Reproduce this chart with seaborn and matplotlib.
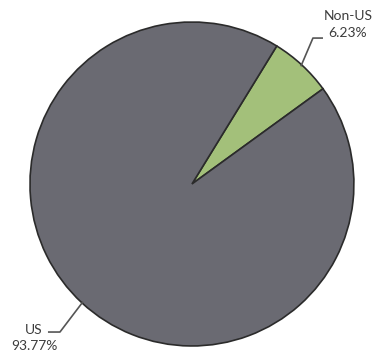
import numpy as np
import matplotlib
matplotlib.use("Agg")
import matplotlib.pyplot as plt
import seaborn as sns

sns.set_style("white")
plt.rcParams['font.family'] = ['Lato', 'DejaVu Sans']

# data
labels = ["Non-US", "US"]
shares = [6.23, 93.77]
colors = ["#a3c07a", "#6a6a72"]
start_deg = 36

fig = plt.figure(figsize=(3.75, 3.56), dpi=100)
ax = fig.add_axes([0, 0, 1, 1])

wedges, _ = ax.pie(shares, colors=colors, startangle=start_deg, counterclock=True,
                   radius=1.0,
                   wedgeprops=dict(edgecolor="#2b2b2b", linewidth=1.2))

ax.set_xlim(-1.185, 1.130)
ax.set_ylim(-1.062, 1.136)
ax.set_aspect("equal")
ax.axis("off")

# leader lines: elbow offset, horizontal run, text offset (data units)
leaders = {
    "Non-US": dict(elbow=(0.747, 0.901), end=(0.809, 0.901), text=(0.963, 0.985)),
    "US": dict(elbow=(-0.815, -0.914), end=(-0.889, -0.914), text=(-0.975, -0.950)),
}

for w, lab, val in zip(wedges, labels, shares):
    mid = np.deg2rad((w.theta1 + w.theta2) / 2)
    px, py = np.cos(mid) * 0.99, np.sin(mid) * 0.99
    cfg = leaders[lab]
    ex, ey = cfg["elbow"]
    hx, hy = cfg["end"]
    ax.plot([px, ex, hx], [py, ey, hy], color="#555555", lw=1.2,
            solid_capstyle="butt", clip_on=False)
    tx, ty = cfg["text"]
    ax.text(tx, ty, f"{lab}\n{val:.2f}%", ha="center", va="center",
            fontsize=10, color="#3c3c3c", linespacing=1.45)

fig.savefig("out.png", dpi=100)
